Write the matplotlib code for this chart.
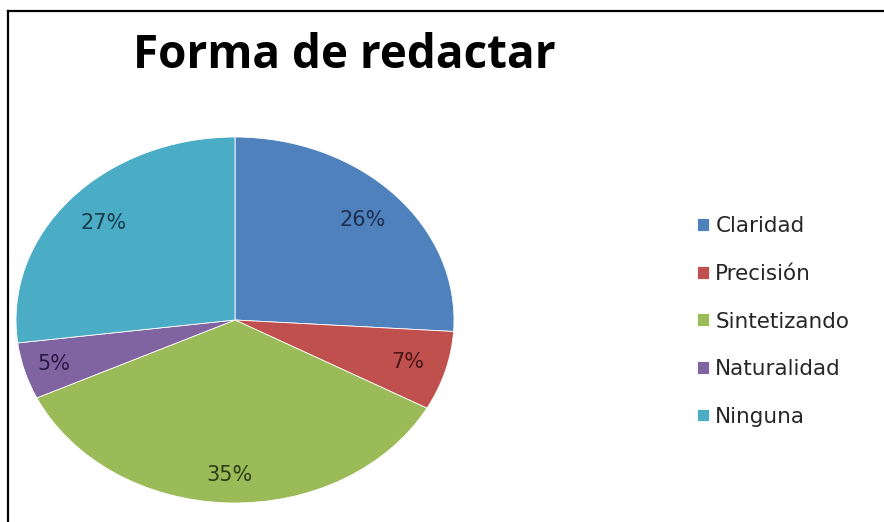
import matplotlib
matplotlib.use("Agg")
import matplotlib.pyplot as plt
import numpy as np
from matplotlib.lines import Line2D

categories = ["Claridad", "Precisión", "Sintetizando", "Naturalidad", "Ninguna"]
values = [26, 7, 35, 5, 27]
colors = ["#4F81BD", "#C0504D", "#9BBB59", "#8064A2", "#4BACC6"]
label_colors = ["#1F2F4F", "#4A1515", "#2E3D15", "#2A1A45", "#173D4A"]
label_dist = [0.80, 0.82, 0.85, 0.86, 0.80]

W, H = 884, 522
fig = plt.figure(figsize=(W / 100, H / 100), dpi=100)
fig.patch.set_facecolor("white")

# frame lines (chart border clipped at right and bottom)
fig.add_artist(Line2D([8 / W, 1.0], [1 - 11 / H, 1 - 11 / H], color="black", lw=1.6,
                      transform=fig.transFigure))
fig.add_artist(Line2D([8 / W, 8 / W], [0.0, 1 - 11 / H], color="black", lw=1.6,
                      transform=fig.transFigure))

# pie axes (elliptical, as in the stretched original)
left, right, top, bottom = 16, 454, 137, 503
ax = fig.add_axes([left / W, 1 - bottom / H, (right - left) / W, (bottom - top) / H])
wedges, _ = ax.pie(values, colors=colors, startangle=90, counterclock=False,
                   wedgeprops=dict(edgecolor="white", linewidth=0.6))
ax.set_aspect("auto")
ax.set_xlim(-1, 1)
ax.set_ylim(-1, 1)
ax.axis("off")

total = sum(values)
for w, v, d, c in zip(wedges, values, label_dist, label_colors):
    ang = np.deg2rad((w.theta1 + w.theta2) / 2)
    ax.text(d * np.cos(ang), d * np.sin(ang), f"{round(100 * v / total)}%",
            ha="center", va="center", fontsize=15, color=c, family="DejaVu Sans")

fig.text(133 / W, 1 - 68 / H, "Forma de redactar", fontsize=33, fontweight="bold",
         family="Open Sans", ha="left", va="baseline", color="black")

leg = fig.legend(wedges, categories, loc="center left",
                 bbox_to_anchor=(697 / W, 1 - 321.5 / H), frameon=False,
                 prop=dict(family="DejaVu Sans", size=15.5), labelspacing=1.28,
                 handlelength=0.55, handleheight=0.55, handletextpad=0.3,
                 borderpad=0, borderaxespad=0)
for t in leg.get_texts():
    t.set_color("#262626")

fig.savefig("out.png", dpi=100, facecolor="white")
